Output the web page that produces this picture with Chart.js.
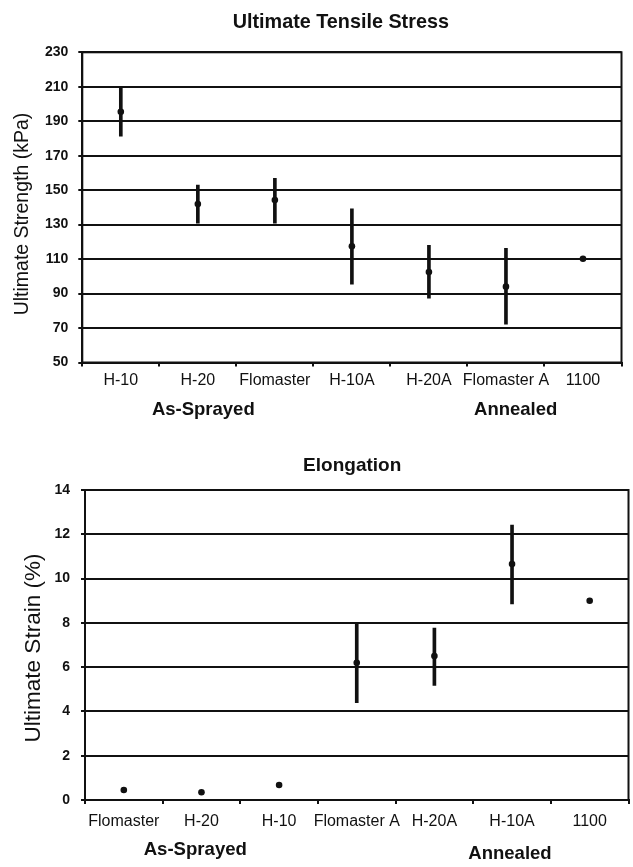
<!DOCTYPE html>
<html>
<head>
<meta charset="utf-8">
<script src="https://cdn.jsdelivr.net/npm/chart.js@4.4.1/dist/chart.umd.min.js"></script>
<style>
  body { margin: 0; background: #fff; }
  #wrap { position: relative; width: 633px; height: 867px; }
  canvas { position: absolute; left: 0; display: block; }
</style>
</head>
<body>
<div id="wrap">
  <canvas id="stress" width="633" height="434" style="top:0"></canvas>
  <canvas id="strain" width="633" height="433" style="top:434px"></canvas>
</div>
<script>
// Ultimate tensile stress (kPa)
const stressLabels = ['H-10', 'H-20', 'Flomaster', 'H-10A', 'H-20A', 'Flomaster A', '1100'];
const stressMean = [195.5, 142, 144.3, 117.4, 102.5, 94, 110.2];
const stressLow = [181.4, 130.8, 130.8, 95.4, 87.3, 72.2, null];
const stressHigh = [210, 153, 156.9, 139.1, 118, 116.3, null];
const stressTicks = [50, 70, 90, 110, 130, 150, 170, 190, 210, 230];

// Elongation (%)
const strainLabels = ['Flomaster', 'H-20', 'H-10', 'Flomaster A', 'H-20A', 'H-10A', '1100'];
const strainMean = [0.45, 0.35, 0.68, 6.2, 6.5, 10.66, 9.0];
const strainLow = [null, null, null, 4.39, 5.18, 8.85, null];
const strainHigh = [null, null, null, 8.0, 7.76, 12.42, null];
const strainTicks = [0, 2, 4, 6, 8, 10, 12, 14];

Chart.defaults.font.family = "'Liberation Sans', Arial, sans-serif";
Chart.defaults.color = '#111';

const ink = '#111';

const decor = {
  id: 'decor',
  afterDraw(chart, args, opts) {
    const ctx = chart.ctx;
    const a = chart.chartArea;
    ctx.save();
    ctx.strokeStyle = ink;
    ctx.lineWidth = 2;
    ctx.strokeRect(a.left, a.top, a.right - a.left, a.bottom - a.top);
    ctx.fillStyle = ink;
    ctx.textAlign = 'center';
    opts.texts.forEach(t => {
      ctx.save();
      ctx.font = t.font + " 'Liberation Sans', Arial, sans-serif";
      ctx.translate(t.x, t.y);
      if (t.rotate) {
        ctx.rotate(-Math.PI / 2);
        ctx.textBaseline = 'middle';
      } else {
        ctx.textBaseline = 'alphabetic';
      }
      ctx.fillText(t.text, 0, 0);
      ctx.restore();
    });
    ctx.restore();
  }
};

function chart(element, labels, mean, low, high, ticks, box, texts) {
  const ctx = document.querySelector(element).getContext('2d');
  const range = low.map((v, i) => v === null ? null : [v, high[i]]);
  new Chart(ctx, {
    type: 'bar',
    data: {
      labels: labels,
      datasets: [
        {
          data: range,
          backgroundColor: ink,
          barThickness: 3,
          order: 1
        },
        {
          type: 'line',
          data: mean,
          showLine: false,
          pointRadius: 3.3,
          pointBackgroundColor: ink,
          pointBorderColor: ink,
          pointBorderWidth: 0,
          order: 0
        }
      ]
    },
    options: {
      responsive: false,
      animation: false,
      layout: { padding: { left: 0, top: box.top, right: box.right, bottom: 0 } },
      plugins: {
        legend: { display: false },
        tooltip: { enabled: false },
        decor: { texts: texts }
      },
      scales: {
        x: {
          offset: true,
          grid: { offset: true, drawOnChartArea: false, drawTicks: true, tickLength: 4, color: ink, lineWidth: 2 },
          border: { color: ink, width: 2 },
          ticks: { font: { size: 16 }, padding: box.xPad, maxRotation: 0, autoSkip: false },
          afterFit: s => { s.height = box.xHeight; }
        },
        y: {
          min: ticks[0],
          max: ticks[ticks.length - 1],
          afterBuildTicks: s => { s.ticks = ticks.map(v => ({ value: v })); },
          grid: { color: ink, lineWidth: 2, tickLength: 4 },
          border: { color: ink, width: 2 },
          ticks: { font: { size: 14, weight: 'bold' }, padding: box.yPad },
          afterFit: s => { s.width = box.yWidth; }
        }
      }
    },
    plugins: [decor]
  });
}

chart('#stress', stressLabels, stressMean, stressLow, stressHigh, stressTicks,
  { top: 52.3, right: 11.5, yWidth: 82.3, xHeight: 71.5, xPad: 4, yPad: 10 },
  [
    { text: 'Ultimate Tensile Stress', x: 340.8, y: 28.3, font: 'bold 19.8px' },
    { text: 'Ultimate Strength (kPa)', x: 22.5, y: 214, font: '19.5px', rotate: true },
    { text: 'As-Sprayed', x: 203.3, y: 414.5, font: 'bold 18.5px' },
    { text: 'Annealed', x: 515.7, y: 415, font: 'bold 18.5px' }
  ]);

chart('#strain', strainLabels, strainMean, strainLow, strainHigh, strainTicks,
  { top: 56, right: 4.5, yWidth: 85, xHeight: 67, xPad: 8, yPad: 11 },
  [
    { text: 'Elongation', x: 352.2, y: 36.7, font: 'bold 19px' },
    { text: 'Ultimate Strain (%)', x: 33.3, y: 214, font: '22.5px', rotate: true },
    { text: 'As-Sprayed', x: 195.3, y: 420.5, font: 'bold 18.6px' },
    { text: 'Annealed', x: 510, y: 425, font: 'bold 18.5px' }
  ]);
</script>
</body>
</html>
